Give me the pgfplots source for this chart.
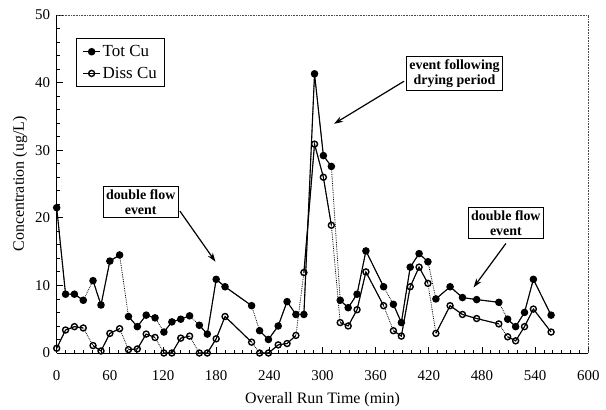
\documentclass[border=0pt]{standalone}
\usepackage{fontspec}
\setmainfont{Liberation Serif}
\usepackage{pgfplots}
\usepackage{pgfplotstable}
\pgfplotsset{compat=1.18}
\usetikzlibrary{arrows.meta}

% run time (min), total Cu, dissolved Cu (ug/L); nan rows split the events
\pgfplotstableread{
t tot diss
0 21.5 0.7
10 8.7 3.4
20 8.7 3.9
30 7.8 3.7
nan nan nan
41 10.7 1.1
50 7.1 0.3
60 13.6 2.9
71 14.5 3.6
nan nan nan
81 5.4 0.5
91 3.9 0.6
101 5.6 2.8
111 5.2 2.3
nan nan nan
121 3.1 0.0
130 4.6 0.0
140 5.0 2.2
150 5.5 2.5
nan nan nan
161 4.1 0.0
170 2.8 0.0
180 10.9 2.1
190 9.8 5.4
220 7.0 1.6
nan nan nan
229 3.3 0.0
239 2.0 0.0
250 4.0 1.2
260 7.6 1.4
270 5.7 2.6
nan nan nan
279 5.7 11.9
291 41.3 30.9
301 29.2 26.0
310 27.6 18.9
nan nan nan
320 7.8 4.5
329 6.7 4.0
339 8.7 6.4
349 15.1 12.0
369 9.8 7.0
nan nan nan
380 7.2 3.3
389 4.5 2.5
399 12.7 9.8
409 14.7 12.7
419 13.5 10.3
nan nan nan
428 8.0 2.9
444 9.8 7.0
458 8.2 5.7
474 7.9 5.1
499 7.5 4.3
nan nan nan
509 5.0 2.4
518 3.9 1.8
528 6.0 3.9
538 10.9 6.5
558 5.6 3.1
}\cudata

\begin{document}
\begin{tikzpicture}
  \begin{axis}[
    name=ax,
    anchor=south west, at={(0,0)},
    scale only axis,
    width=531.6bp, height=338bp,
    xmin=0, xmax=600, ymin=0, ymax=50,
    xtick={0,60,...,600}, ytick={0,10,...,50},
    minor x tick num=5, minor y tick num=4,
    axis x line*=bottom, axis y line*=left,
    axis line style={line width=1pt},
    tick align=inside,
    major tick length=6bp, minor tick length=3bp,
    tick style={black, line width=0.8pt},
    tick label style={font=\fontsize{15}{17}\selectfont},
    xticklabel style={yshift=-14bp},
    yticklabel style={xshift=-3bp},
    /pgf/number format/assume math mode=true,
    xlabel={Overall Run Time (min)},
    ylabel={Concentration (ug/L)},
    label style={font=\fontsize{16}{18}\selectfont},
    xlabel style={yshift=-5bp},
    ylabel style={yshift=1bp},
    clip=false,
    legend style={at={(axis cs:22,46.6)}, anchor=north west,
      draw=black, line width=0.8pt, font=\fontsize{17}{19}\selectfont,
      row sep=5bp, inner xsep=6bp, inner ysep=5bp},
    legend cell align=left,
  ]
  % dotted connectors between events
  \addplot[black, densely dotted, line width=0.8pt, unbounded coords=discard, forget plot]
    table[x=t, y=tot] {\cudata};
  \addplot[black, densely dotted, line width=0.8pt, unbounded coords=discard, forget plot]
    table[x=t, y=diss] {\cudata};
  % solid event lines with marks
  \addplot[black, line width=1.1pt, mark=*, mark size=3.2bp, unbounded coords=jump, forget plot]
    table[x=t, y=tot] {\cudata};
  \addplot[black, line width=1.1pt, mark=o, mark size=3bp,
    mark options={fill=white, line width=1.4pt}, unbounded coords=jump, forget plot]
    table[x=t, y=diss] {\cudata};

  \addlegendimage{black, line width=1.1pt, mark=*, mark size=3.2bp}
  \addlegendentry{Tot Cu}
  \addlegendimage{black, line width=1.1pt, mark=o, mark size=3bp, mark options={fill=white, line width=1.4pt}}
  \addlegendentry{Diss Cu}

  % annotations
  \node[draw, line width=0.9pt, align=center, inner sep=3bp,
    font=\bfseries\fontsize{14}{15}\selectfont] at (axis cs:94.8,22.3) {double flow\\event};
  \draw[line width=1.2pt, -{Stealth[length=9bp, width=6bp]}] (axis cs:139,21.0) -- (axis cs:179.2,13.5);

  \node[draw, line width=0.9pt, align=center, inner sep=3bp,
    font=\bfseries\fontsize{14}{15}\selectfont] at (axis cs:449,41.3) {event following\\drying period};
  \draw[line width=1.2pt, -{Stealth[length=9bp, width=6bp]}] (axis cs:392,40.2) -- (axis cs:313,33.9);

  \node[draw, line width=0.9pt, align=center, inner sep=3bp,
    font=\bfseries\fontsize{14}{15}\selectfont] at (axis cs:507,19.2) {double flow\\event};
  \draw[line width=1.2pt, -{Stealth[length=9bp, width=6bp]}] (axis cs:507,16.2) -- (axis cs:470.5,9.7);

  % faint top and right frame
  \draw[black!70, densely dotted, line width=0.6pt]
    (rel axis cs:0,1) -- (rel axis cs:1,1) -- (rel axis cs:1,0);
  \end{axis}
  \pgfresetboundingbox
  \path (-56.7bp,-57bp) rectangle (549.3bp,353bp);
\end{tikzpicture}
\end{document}
